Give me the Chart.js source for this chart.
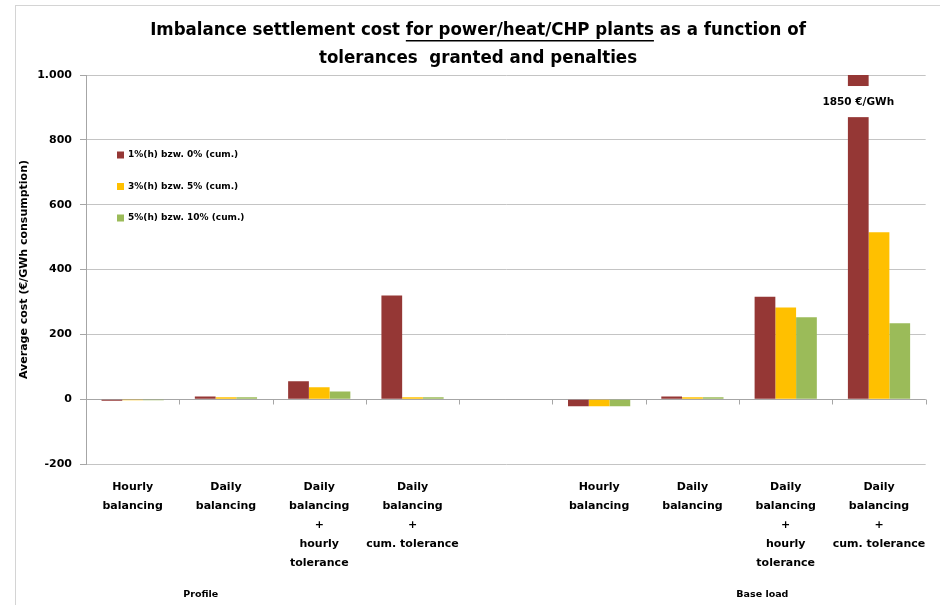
<!DOCTYPE html>
<html>
<head>
<meta charset="utf-8">
<script src="https://cdn.jsdelivr.net/npm/chart.js@4"></script>
<style>
  body { margin: 0; background: #fff; }
  #wrap { position: relative; width: 940px; height: 605px; }
  #frame { position: absolute; left: 15px; top: 5px; width: 925px; height: 600px;
           border-top: 1px solid #d4d4d4; border-left: 1px solid #d4d4d4; pointer-events: none; }
</style>
</head>
<body>
<div id="wrap">
  <canvas id="chart" width="940" height="605"></canvas>
  <div id="frame"></div>
</div>
<script>
// Kategorien (Profil / Bandlast), mittlere Kategorie bleibt leer
const categories = [
  ['Hourly', 'balancing'],
  ['Daily', 'balancing'],
  ['Daily', 'balancing', '+', 'hourly', 'tolerance'],
  ['Daily', 'balancing', '+', 'cum. tolerance'],
  '',
  ['Hourly', 'balancing'],
  ['Daily', 'balancing'],
  ['Daily', 'balancing', '+', 'hourly', 'tolerance'],
  ['Daily', 'balancing', '+', 'cum. tolerance']
];
const groupLabels = ['Profile', 'Base load'];

const seriesNames = ['1%(h) bzw. 0% (cum.)', '3%(h) bzw. 5% (cum.)', '5%(h) bzw. 10% (cum.)'];
const tol1 = [-5, 8, 55, 320, null, -22, 8, 316, 1850];
const tol3 = [-3, 6, 37, 6, null, -22, 6, 283, 515];
const tol5 = [-3, 6, 24, 6, null, -22, 6, 253, 234];
const colors = ['#953735', '#FFC000', '#9BBB59'];

const yTicks = [-200, 0, 200, 400, 600, 800, 1000];

const titleLine1 = ['Imbalance settlement cost ', 'for power/heat/CHP plants', ' as a function of'];
const titleLine2 = 'tolerances  granted and penalties';
const yTitle = 'Average cost (€/GWh consumption)';

const GRID = '#c4c4c4';
const AXIS = '#a6a6a6';
const FONT = '"DejaVu Sans", sans-serif';

function fmtThousands(v) {
  const s = String(Math.abs(v)).replace(/\B(?=(\d{3})+(?!\d))/g, '.');
  return (v < 0 ? '-' : '') + s;
}

// Titel mit unterstrichenem Mittelteil
const titlePlugin = {
  id: 'titleLines',
  afterDraw(chart) {
    const ctx = chart.ctx;
    const cx = 478;
    ctx.save();
    ctx.font = 'bold 18.5px "DejaVu Sans Condensed", ' + FONT;
    ctx.fillStyle = '#000';
    ctx.textBaseline = 'middle';
    ctx.textAlign = 'left';
    const widths = titleLine1.map(t => ctx.measureText(t).width);
    const total = widths.reduce((a, b) => a + b, 0);
    let x = cx - total / 2;
    titleLine1.forEach((t, i) => {
      ctx.fillText(t, x, 30);
      if (i === 1) {
        ctx.fillRect(x, 40, widths[i], 1.5);
      }
      x += widths[i];
    });
    ctx.textAlign = 'center';
    ctx.fillText(titleLine2, cx, 58);
    ctx.restore();
  }
};

// Nulllinie mit Teilstrichen zwischen den Kategorien
const zeroAxisPlugin = {
  id: 'zeroAxis',
  beforeDatasetsDraw(chart) {
    const {ctx, chartArea, scales} = chart;
    const y0 = Math.round(scales.y.getPixelForValue(0)) + 0.5;
    const n = categories.length;
    const step = (chartArea.right - chartArea.left) / n;
    ctx.save();
    ctx.strokeStyle = AXIS;
    ctx.lineWidth = 1;
    ctx.beginPath();
    ctx.moveTo(chartArea.left, y0);
    ctx.lineTo(chartArea.right, y0);
    for (let i = 0; i <= n; i++) {
      const x = Math.round(chartArea.left + i * step) + 0.5;
      ctx.moveTo(x, y0);
      ctx.lineTo(x, y0 + 5);
    }
    ctx.stroke();
    ctx.restore();
  }
};

// Achsenbruch fuer Balken ueber dem Maximum + Wertangabe
const breakPlugin = {
  id: 'barBreak',
  afterDatasetsDraw(chart) {
    const {ctx, scales} = chart;
    const yMax = scales.y.max;
    chart.data.datasets.forEach((ds, di) => {
      const meta = chart.getDatasetMeta(di);
      ds.data.forEach((v, i) => {
        if (v == null || v <= yMax) return;
        const bar = meta.data[i];
        const yTop = scales.y.getPixelForValue(yMax * 0.966);
        const yBot = scales.y.getPixelForValue(yMax * 0.87);
        ctx.save();
        ctx.fillStyle = '#fff';
        ctx.fillRect(bar.x - bar.width / 2 - 1, yTop, bar.width + 2, yBot - yTop);
        ctx.fillStyle = '#000';
        ctx.font = 'bold 10.5px ' + FONT;
        ctx.textAlign = 'center';
        ctx.textBaseline = 'middle';
        ctx.fillText(v + ' €/GWh', bar.x, (yTop + yBot) / 2 + 1);
        ctx.restore();
      });
    });
  }
};

// Legende innerhalb der Zeichenflaeche
const legendPlugin = {
  id: 'innerLegend',
  afterDraw(chart) {
    const ctx = chart.ctx;
    const left = chart.chartArea.left;
    const x0 = left + 31, y0 = 155, gap = 31.5;
    ctx.save();
    ctx.font = 'bold 9px ' + FONT;
    ctx.textBaseline = 'middle';
    ctx.textAlign = 'left';
    chart.data.datasets.forEach((ds, i) => {
      const y = y0 + i * gap;
      ctx.fillStyle = ds.backgroundColor;
      ctx.fillRect(x0, y - 3.5, 7, 7);
      ctx.fillStyle = '#000';
      ctx.fillText(ds.label, x0 + 11, y);
    });
    ctx.restore();
  }
};

// Gruppenbeschriftung unter den Kategorien
const groupPlugin = {
  id: 'groupLabels',
  afterDraw(chart) {
    const ctx = chart.ctx;
    const xs = chart.scales.x;
    const pos = [0.73, 6.75];
    ctx.save();
    ctx.font = 'bold 9.5px ' + FONT;
    ctx.fillStyle = '#000';
    ctx.textAlign = 'center';
    ctx.textBaseline = 'middle';
    groupLabels.forEach((g, i) => {
      ctx.fillText(g, xs.getPixelForValue(pos[i]), 595);
    });
    ctx.restore();
  }
};

new Chart(document.getElementById('chart'), {
  type: 'bar',
  data: {
    labels: categories,
    datasets: [tol1, tol3, tol5].map((d, i) => ({
      label: seriesNames[i],
      data: d,
      backgroundColor: colors[i],
      borderWidth: 0,
      categoryPercentage: 0.667,
      barPercentage: 1.0
    }))
  },
  options: {
    responsive: false,
    animation: false,
    devicePixelRatio: 1,
    layout: { padding: { left: 0, top: 75, right: 13, bottom: 0 } },
    plugins: {
      legend: { display: false },
      title: { display: false },
      tooltip: { enabled: false }
    },
    scales: {
      x: {
        grid: { display: false, drawTicks: false },
        border: { display: false },
        ticks: {
          color: '#000',
          font: { family: FONT, size: 11, weight: 'bold', lineHeight: 1.72 },
          padding: 14,
          maxRotation: 0,
          autoSkip: false
        },
        afterFit(scale) { scale.height = 141; }
      },
      y: {
        min: yTicks[0],
        max: yTicks[yTicks.length - 1],
        afterBuildTicks(scale) { scale.ticks = yTicks.map(v => ({ value: v })); },
        grid: { color: GRID, tickLength: 6, tickColor: AXIS },
        border: { color: AXIS },
        ticks: {
          color: '#000',
          font: { family: FONT, size: 11, weight: 'bold' },
          padding: 8,
          callback: v => fmtThousands(v)
        },
        title: {
          display: true,
          text: yTitle,
          color: '#000',
          font: { family: FONT, size: 11, weight: 'bold' },
          padding: { top: 18, bottom: 0 }
        },
        afterFit(scale) { scale.width = 86; }
      }
    }
  },
  plugins: [titlePlugin, zeroAxisPlugin, breakPlugin, legendPlugin, groupPlugin]
});
</script>
</body>
</html>
